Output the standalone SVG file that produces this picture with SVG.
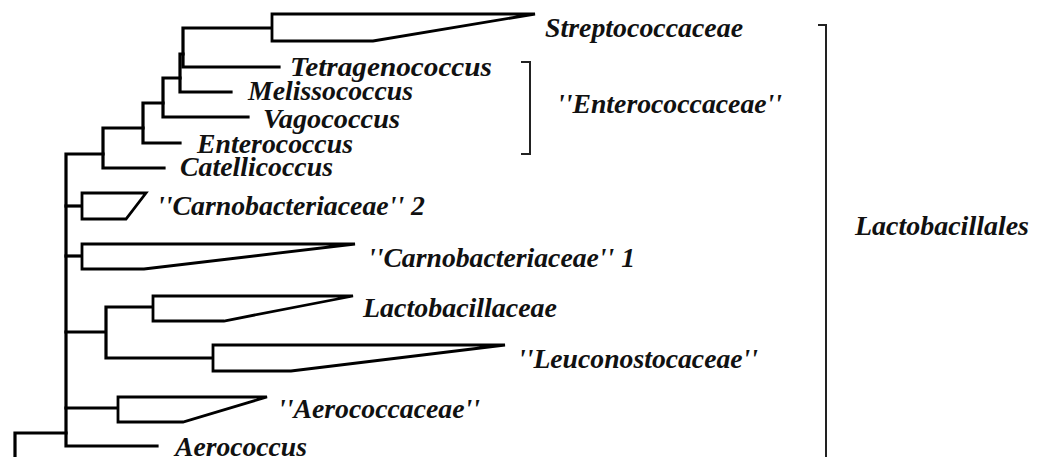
<svg xmlns="http://www.w3.org/2000/svg" width="1037" height="457" viewBox="0 0 1037 457">
<style>
.t{font-family:"Liberation Serif","Times New Roman",serif;font-weight:bold;font-style:italic;font-size:27px;fill:#111}
.w{fill:#fff;stroke:#000;stroke-width:2.8;stroke-linejoin:miter}
.b{fill:none;stroke:#000;stroke-width:3.2;stroke-linecap:square;stroke-linejoin:miter}
.br{fill:none;stroke:#222;stroke-width:2}
</style>
<rect width="1037" height="457" fill="#fff"/>
<g id="connectors">
<path class="b" d="M183,28 H272 M183,28 V67 H279"/>
<path class="b" d="M180,54 H183 M180,54 V92 H231"/>
<path class="b" d="M163,78 H180 M163,78 V117 H248"/>
<path class="b" d="M143,103 H163 M143,103 V143 H180"/>
<path class="b" d="M103,128 H143 M103,128 V168 H164"/>
<path class="b" d="M66,154 H103 M66,154 V446 H157"/>
<path class="b" d="M66,206 H82"/>
<path class="b" d="M66,256 H82"/>
<path class="b" d="M66,332 H106 M106,307 V358 M106,307 H153 M106,358 H213"/>
<path class="b" d="M66,408 H118"/>
<path class="b" d="M15,460 V433 H66"/>
</g>
<g id="streptococcaceae">
<polygon class="w" points="272,14 535,14 373,41 272,41"/>
<text class="t" x="545" y="37" textLength="198" lengthAdjust="spacingAndGlyphs">Streptococcaceae</text>
</g>
<g id="tetragenococcus"><text class="t" x="290" y="76" textLength="202" lengthAdjust="spacingAndGlyphs">Tetragenococcus</text></g>
<g id="melissococcus"><text class="t" x="248" y="100" textLength="165" lengthAdjust="spacingAndGlyphs">Melissococcus</text></g>
<g id="vagococcus"><text class="t" x="263" y="128" textLength="137" lengthAdjust="spacingAndGlyphs">Vagococcus</text></g>
<g id="enterococcus"><text class="t" x="197" y="153" textLength="156" lengthAdjust="spacingAndGlyphs">Enterococcus</text></g>
<g id="catellicoccus"><text class="t" x="180" y="176" textLength="153" lengthAdjust="spacingAndGlyphs">Catellicoccus</text></g>
<g id="enterococcaceae">
<path class="br" d="M521,62 H530 V154 H521"/>
<text class="t" x="557" y="113" textLength="225" lengthAdjust="spacingAndGlyphs">''Enterococcaceae''</text>
</g>
<g id="carnobacteriaceae2">
<polygon class="w" points="82,193 146,193 126,219 82,219"/>
<text class="t" x="157" y="215" textLength="268" lengthAdjust="spacingAndGlyphs">''Carnobacteriaceae'' 2</text>
</g>
<g id="carnobacteriaceae1">
<polygon class="w" points="82,244 355,244 144,269 82,269"/>
<text class="t" x="368" y="267" textLength="267" lengthAdjust="spacingAndGlyphs">''Carnobacteriaceae'' 1</text>
</g>
<g id="lactobacillaceae">
<polygon class="w" points="153,296 353,296 224,321 153,321"/>
<text class="t" x="363" y="317" textLength="194" lengthAdjust="spacingAndGlyphs">Lactobacillaceae</text>
</g>
<g id="leuconostocaceae">
<polygon class="w" points="213,345 505,345 291,371 213,371"/>
<text class="t" x="518" y="368" textLength="240" lengthAdjust="spacingAndGlyphs">''Leuconostocaceae''</text>
</g>
<g id="aerococcaceae">
<polygon class="w" points="118,397 267,397 183,422 118,422"/>
<text class="t" x="278" y="418" textLength="202" lengthAdjust="spacingAndGlyphs">''Aerococcaceae''</text>
</g>
<g id="aerococcus"><text class="t" x="175" y="456" textLength="132" lengthAdjust="spacingAndGlyphs">Aerococcus</text></g>
<g id="lactobacillales">
<path class="br" d="M818,25 H826 V460"/>
<text class="t" x="855" y="235" textLength="174" lengthAdjust="spacingAndGlyphs">Lactobacillales</text>
</g>
</svg>
